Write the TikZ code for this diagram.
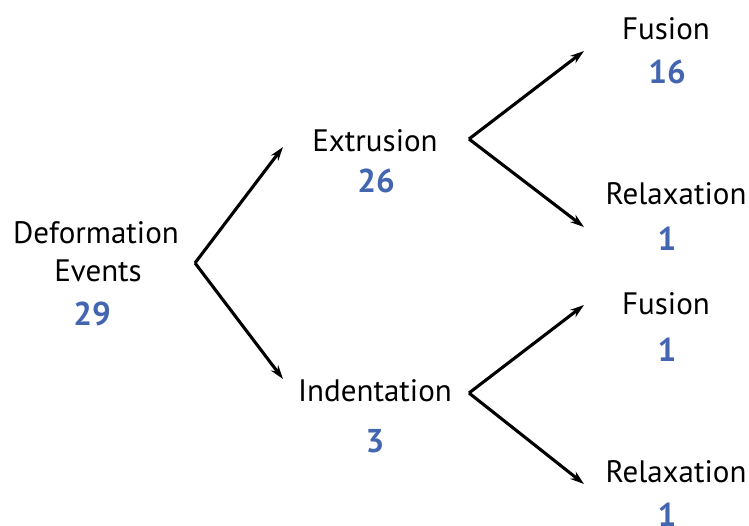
\documentclass[tikz,border=0pt]{standalone}
\usepackage{fontspec}
\setmainfont{PT Sans}
\usetikzlibrary{arrows.meta}
\definecolor{numblue}{RGB}{68,102,176}
\begin{document}
\begin{tikzpicture}[x=1pt,y=-1pt,
  lbl/.style={anchor=base,inner sep=0pt,font=\fontsize{31}{36}\selectfont},
  num/.style={anchor=base,inner sep=0pt,text=numblue,font=\fontsize{33}{36}\selectfont\bfseries},
  arr/.style={line width=3.1pt,-{Stealth[length=14pt,width=9pt]}}]
\useasboundingbox (0,0) rectangle (749,525);
% labels
\node[lbl] (def) at (96,243) {Deformation};
\node[lbl] (ev) at (98,281) {Events};
\node[num] (n29) at (92,325) {29};
\node[lbl] (ext) at (375,151) {Extrusion};
\node[num] (n26) at (376,192) {26};
\node[lbl] (ind) at (375,401) {Indentation};
\node[num] (n3) at (375,452) {3};
\node[lbl] (fus1) at (666,39) {Fusion};
\node[num] (n16) at (667,83) {16};
\node[lbl] (rel1) at (676,204) {Relaxation};
\node[num] (n1a) at (667,250) {1};
\node[lbl] (fus2) at (666,314) {Fusion};
\node[num] (n1b) at (667,361) {1};
\node[lbl] (rel2) at (676,482) {Relaxation};
\node[num] (n1c) at (667,526) {1};
% arrow points
\coordinate (v0) at (195,263);
\coordinate (t0a) at (283,147);
\coordinate (t0b) at (283,379);
\coordinate (v1) at (469,139);
\coordinate (t1a) at (584,51);
\coordinate (t1b) at (584,227);
\coordinate (v2) at (469,393);
\coordinate (t2a) at (584,305);
\coordinate (t2b) at (584,484);
\draw[arr] (v0) -- (t0a);
\draw[arr] (v0) -- (t0b);
\draw[arr] (v1) -- (t1a);
\draw[arr] (v1) -- (t1b);
\draw[arr] (v2) -- (t2a);
\draw[arr] (v2) -- (t2b);
\end{tikzpicture}
\end{document}
